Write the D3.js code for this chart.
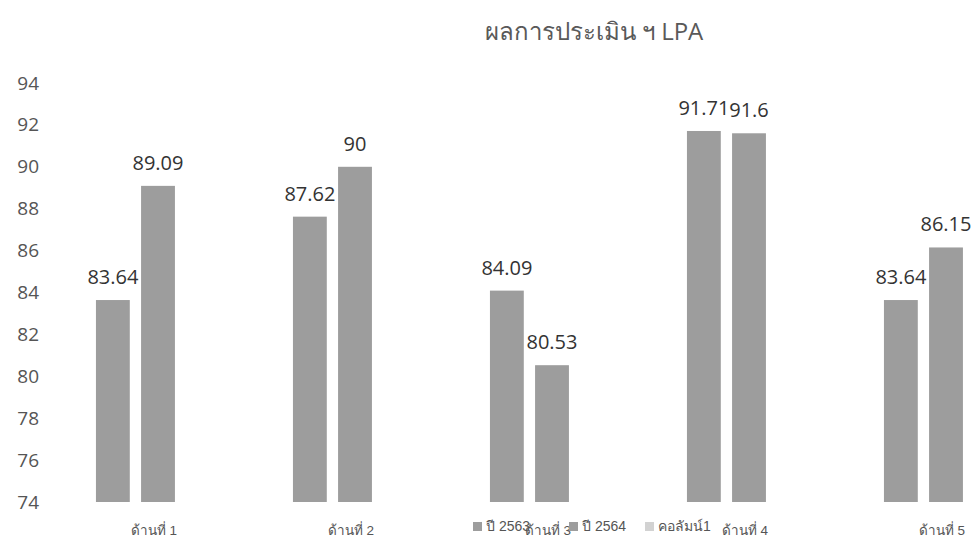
<!DOCTYPE html>
<html>
<head>
  <meta charset="utf-8">
  <title>LPA</title>
  <style>
    body { margin: 0; background: #fff; }
    text { font-family: "Open Sans", "Noto Sans", sans-serif; }
  </style>
</head>
<body>
<script src="https://d3js.org/d3.v7.min.js"></script>
<svg id="chart" width="972" height="546"></svg>

<script>
    // data
    var categories = ["ด้านที่ 1", "ด้านที่ 2", "ด้านที่ 3", "ด้านที่ 4", "ด้านที่ 5"];
    var seriesNames = ["ปี 2563", "ปี 2564", "คอลัมน์1"];
    var y2563 = [83.64, 87.62, 84.09, 91.71, 83.64];
    var y2564 = [89.09, 90, 80.53, 91.6, 86.15];
    var yCol1 = [null, null, null, null, null];   // empty third column
    var yTicks = [74, 76, 78, 80, 82, 84, 86, 88, 90, 92, 94];

    var seriesValues = [y2563, y2564, yCol1];
    var colors = ["#9d9d9d", "#9d9d9d", "#d2d2d2"];

    var svg = d3.select("#chart");

    // title
    svg.append("text")
        .attr("x", 594).attr("y", 40)
        .attr("text-anchor", "middle")
        .attr("font-size", 24)
        .attr("fill", "#595959")
        .text("ผลการประเมิน ฯ LPA");

    var y = d3.scaleLinear().domain([74, 94]).range([502, 83]);

    // chart is cut on the right in the original, so range runs past 972
    var step = 197;
    var x0 = d3.scaleBand()
        .domain(categories)
        .range([59.5, 59.5 + step * categories.length])
        .paddingInner(0.37)
        .paddingOuter(0.185);

    var x1 = d3.scaleBand()
        .domain(seriesNames)
        .range([0, x0.bandwidth()])
        .paddingInner(0.25);

    // y axis labels only (no line, no grid)
    var yAxis = svg.append("g")
        .attr("transform", "translate(39,0)")
        .call(d3.axisLeft(y).tickValues(yTicks).tickSize(0).tickPadding(0));
    yAxis.select(".domain").remove();
    yAxis.selectAll("text")
        .attr("font-size", 19)
        .attr("fill", "#555")
        .attr("font-family", "Open Sans, sans-serif");

    // bars
    var groups = svg.selectAll("g.cat")
        .data(categories)
        .enter()
        .append("g")
        .attr("class", "cat")
        .attr("transform", function(d) { return "translate(" + x0(d) + ",0)"; });

    groups.selectAll("rect")
        .data(function(d, i) {
            return seriesNames.map(function(s, j) { return {s: s, v: seriesValues[j][i], j: j}; });
        })
        .enter()
        .filter(function(d) { return d.v != null; })
        .append("rect")
        .attr("x", function(d) { return x1(d.s); })
        .attr("width", x1.bandwidth())
        .attr("y", function(d) { return y(d.v); })
        .attr("height", function(d) { return y(74) - y(d.v); })
        .attr("fill", function(d) { return colors[d.j]; });

    // value labels
    groups.selectAll("text.val")
        .data(function(d, i) {
            return seriesNames.map(function(s, j) { return {s: s, v: seriesValues[j][i]}; });
        })
        .enter()
        .filter(function(d) { return d.v != null; })
        .append("text")
        .attr("class", "val")
        .attr("x", function(d) { return x1(d.s) + x1.bandwidth() / 2; })
        .attr("y", function(d) { return y(d.v) - 16; })
        .attr("text-anchor", "middle")
        .attr("font-size", 20)
        .attr("fill", "#333")
        .text(function(d) { return d.v; });

    // category labels
    svg.selectAll("text.cat")
        .data(categories)
        .enter()
        .append("text")
        .attr("class", "cat")
        .attr("x", function(d) { return x0(d) + x0.bandwidth() / 2 - 4; })
        .attr("y", 535)
        .attr("text-anchor", "middle")
        .attr("font-size", 13.5)
        .attr("fill", "#555")
        .style("font-family", "Liberation Sans, Arial, sans-serif")
        .text(function(d) { return d; });

    // legend (overlaps the axis labels, as in the scan)
    var legendX = [473, 569, 645];
    var legend = svg.selectAll("g.leg")
        .data(seriesNames)
        .enter()
        .append("g")
        .attr("class", "leg")
        .attr("transform", function(d, i) { return "translate(" + legendX[i] + ",522)"; });

    legend.append("rect")
        .attr("width", 9).attr("height", 9)
        .attr("fill", function(d, i) { return colors[i]; });

    legend.append("text")
        .attr("x", 13).attr("y", 9)
        .attr("font-size", 14)
        .attr("fill", "#555")
        .style("font-family", "Liberation Sans, Arial, sans-serif")
        .text(function(d) { return d; });
</script>
</body>
</html>
